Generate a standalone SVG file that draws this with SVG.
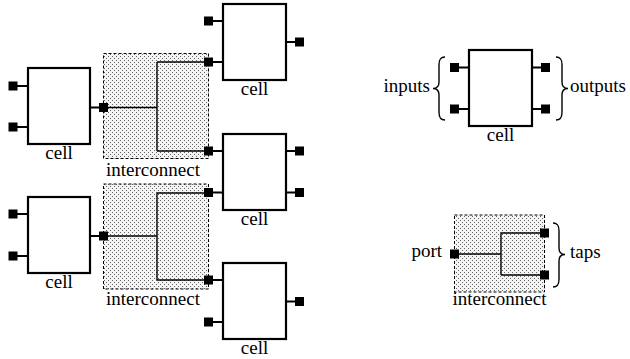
<svg xmlns="http://www.w3.org/2000/svg" width="630" height="359" viewBox="0 0 630 359">
<style>
text{font-family:'Liberation Serif',Tinos,'Times New Roman',Times,'DejaVu Serif','Noto Serif',serif;font-size:19px;fill:#000}
.box{fill:#fff;stroke:#000;stroke-width:2.2}
.ic{fill:url(#dots);stroke:#000;stroke-width:1;stroke-dasharray:3 2}
.stub{stroke:#000;stroke-width:2;fill:none}
.wire{stroke:#000;stroke-width:1.4;fill:none}
.brace{stroke:#000;stroke-width:1.4;fill:none}
</style>
<defs>
<pattern id="dots" width="4" height="4" patternUnits="userSpaceOnUse">
<rect width="4" height="4" fill="#f4f4f4"/>
<rect x="0" y="0" width="1" height="1" fill="#666"/>
<rect x="2" y="2" width="1" height="1" fill="#666"/>
</pattern>
<rect id="sq" x="-4.5" y="-4.5" width="9" height="9" fill="#000"/>
</defs>

<g id="interconnect-upper">
<rect class="ic" x="103.5" y="53.5" width="105" height="105"/>
<path class="wire" d="M103.5,107.5 H157 M157,62 V151 M157,62 H208.5 M157,151 H208.5"/>
<text x="153" y="176" text-anchor="middle">interconnect</text>
</g>
<g id="interconnect-lower">
<rect class="ic" x="103.5" y="184" width="105" height="105"/>
<path class="wire" d="M103.5,236 H157 M157,193 V280 M157,193 H208.5 M157,280 H208.5"/>
<text x="153" y="305" text-anchor="middle">interconnect</text>
</g>

<g id="connectors">
<path class="stub" d="M17,86 H28 M17,127 H28 M90,107.5 H103.5"/>
<path class="stub" d="M17,214 H28 M17,256 H28 M90,236 H103.5"/>
<path class="stub" d="M208.5,21 H223 M208.5,62 H223 M286,42 H299.5"/>
<path class="stub" d="M208.5,151 H223 M208.5,192.5 H223 M286,151 H299.5 M286,192.5 H299.5"/>
<path class="stub" d="M208.5,280 H223 M208.5,322 H223 M286,301.5 H299.5"/>
</g>

<g id="cell-left-upper">
<rect class="box" x="28" y="68" width="62" height="76"/>
<use href="#sq" x="13" y="86"/><use href="#sq" x="13" y="127"/><use href="#sq" x="103.5" y="107.5"/>
<text x="59" y="159" text-anchor="middle">cell</text>
</g>
<g id="cell-left-lower">
<rect class="box" x="28" y="197" width="62" height="76"/>
<use href="#sq" x="13" y="214"/><use href="#sq" x="13" y="256"/><use href="#sq" x="103.5" y="236"/>
<text x="59" y="288" text-anchor="middle">cell</text>
</g>
<g id="cell-right-top">
<rect class="box" x="223" y="4" width="63" height="76"/>
<use href="#sq" x="208.5" y="21"/><use href="#sq" x="208.5" y="62"/><use href="#sq" x="299.5" y="42"/>
<text x="254.5" y="95" text-anchor="middle">cell</text>
</g>
<g id="cell-right-middle">
<rect class="box" x="223" y="134" width="63" height="76"/>
<use href="#sq" x="208.5" y="151"/><use href="#sq" x="208.5" y="192.5"/><use href="#sq" x="299.5" y="151"/><use href="#sq" x="299.5" y="192.5"/>
<text x="254.5" y="225" text-anchor="middle">cell</text>
</g>
<g id="cell-right-bottom">
<rect class="box" x="223" y="263" width="63" height="76"/>
<use href="#sq" x="208.5" y="280"/><use href="#sq" x="208.5" y="322"/><use href="#sq" x="299.5" y="301.5"/>
<text x="254.5" y="354" text-anchor="middle">cell</text>
</g>

<g id="legend-cell">
<path class="stub" d="M454.5,67.5 H469 M454.5,109 H469 M532,67.5 H545.5 M532,109 H545.5"/>
<rect class="box" x="469" y="50" width="63" height="76"/>
<use href="#sq" x="454.5" y="67.5"/><use href="#sq" x="454.5" y="109"/><use href="#sq" x="545.5" y="67.5"/><use href="#sq" x="545.5" y="109"/>
<text x="500.5" y="141" text-anchor="middle">cell</text>
<path class="brace" d="M445,57 C440,57 439,60 439,65 L439,82 C439,86.5 437,88.5 433,88.5 C437,88.5 439,90.5 439,95 L439,112 C439,117 440,120 445,120"/>
<text x="430" y="92" text-anchor="end">inputs</text>
<path class="brace" d="M556,57 C561,57 562,60 562,65 L562,82 C562,86.5 564,88.5 568,88.5 C564,88.5 562,90.5 562,95 L562,112 C562,117 561,120 556,120"/>
<text x="570" y="92">outputs</text>
</g>

<g id="legend-interconnect">
<rect class="ic" x="454.5" y="215" width="90" height="77"/>
<path class="wire" d="M454.5,254 H501 M501,233 V275 M501,233 H544.5 M501,275 H544.5"/>
<use href="#sq" x="454.5" y="254"/><use href="#sq" x="544.5" y="233"/><use href="#sq" x="544.5" y="275"/>
<text x="442" y="257" text-anchor="end">port</text>
<path class="brace" d="M553,223 C558,223 559,226 559,231 L559,248 C559,252.5 561,254.5 565,254.5 C561,254.5 559,256.5 559,261 L559,279 C559,284 558,287 553,287"/>
<text x="570" y="258">taps</text>
<text x="499.5" y="305" text-anchor="middle">interconnect</text>
</g>
</svg>
